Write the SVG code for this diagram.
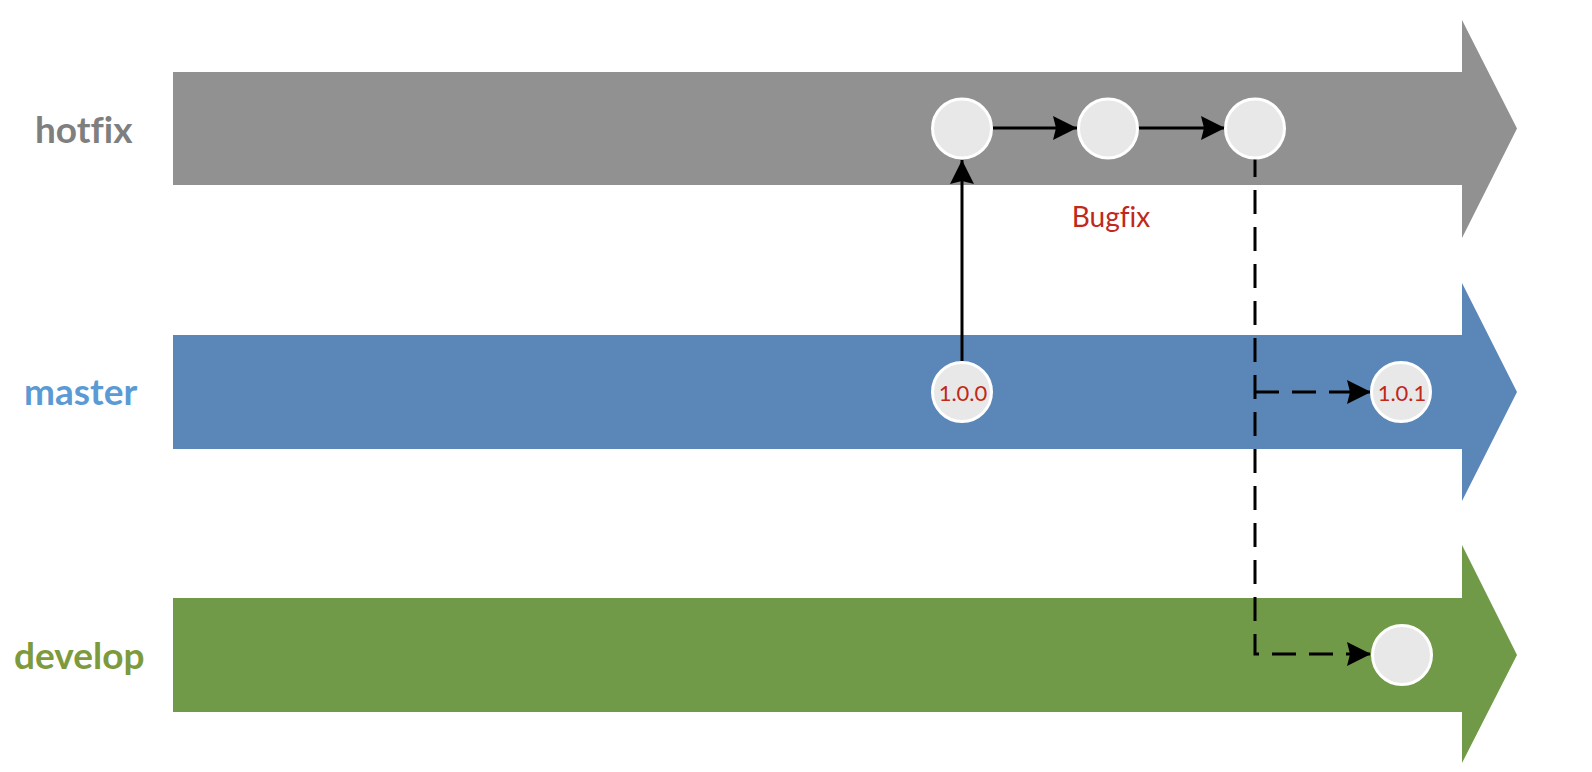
<svg xmlns="http://www.w3.org/2000/svg" width="1592" height="772" viewBox="0 0 1592 772">
<style>
.lbl{font-family:Lato,"Open Sans","Liberation Sans",sans-serif;font-weight:bold;font-size:37px;font-variant-ligatures:none}
.node{fill:#e8e8e8;stroke:#ffffff;stroke-width:3}
.ver{font-family:Lato,"Open Sans","Liberation Sans",sans-serif;font-size:22px;fill:#c0281c;text-anchor:middle}
.c{fill:none;stroke:#000;stroke-width:3}
.d{stroke-dasharray:24 13}
</style>
<defs>
<marker id="a" viewBox="0 0 24 24" refX="24" refY="12" markerWidth="24" markerHeight="24" markerUnits="userSpaceOnUse" orient="auto">
<path d="M0,0 L24,12 L0,24 L3,12 Z" fill="#000"/>
</marker>
</defs>
<g id="lane-hotfix">
<path d="M173,72 H1462 V20 L1517,128.5 L1462,238 V185 H173 Z" fill="#919191"/>
<text class="lbl" x="35" y="143" fill="#7f7f7f">hotfix</text>
</g>
<g id="lane-master">
<path d="M173,335 H1462 V283 L1517,392 L1462,501 V449 H173 Z" fill="#5b87b8"/>
<text class="lbl" x="24" y="405" fill="#5b9bd5">master</text>
</g>
<g id="lane-develop">
<path d="M173,598 H1462 V545 L1517,655 L1462,763 V712 H173 Z" fill="#709948"/>
<text class="lbl" x="14" y="669" fill="#7d9a3c">develop</text>
</g>
<g id="connectors">
<path class="c" d="M962,361 V160" marker-end="url(#a)"/>
<path class="c" d="M993,128 H1077" marker-end="url(#a)"/>
<path class="c" d="M1138,128 H1225" marker-end="url(#a)"/>
<path class="c d" d="M1255,153 V654 H1371" marker-end="url(#a)"/>
<path class="c d" d="M1255,392 H1371" marker-end="url(#a)" stroke-dasharray="9 16 24 13 24 13 24 13"/>
</g>
<g id="n-h1"><circle class="node" cx="962" cy="128.5" r="29.5"/></g>
<g id="n-h2"><circle class="node" cx="1108" cy="128.5" r="29.5"/></g>
<g id="n-h3"><circle class="node" cx="1255" cy="128.5" r="29.5"/></g>
<g id="n-m1"><circle class="node" cx="962" cy="392" r="29.5"/><text class="ver" x="963" y="401">1.0.0</text></g>
<g id="n-m2"><circle class="node" cx="1401" cy="392" r="29.5"/><text class="ver" x="1402" y="401">1.0.1</text></g>
<g id="n-d1"><circle class="node" cx="1402" cy="655" r="29.5"/></g>
<g id="label-bugfix"><text x="1111" y="227" font-family="Lato,'Open Sans','Liberation Sans',sans-serif" font-size="28" fill="#c0281c" text-anchor="middle" style="font-variant-ligatures:none">Bugfix</text></g>
</svg>
